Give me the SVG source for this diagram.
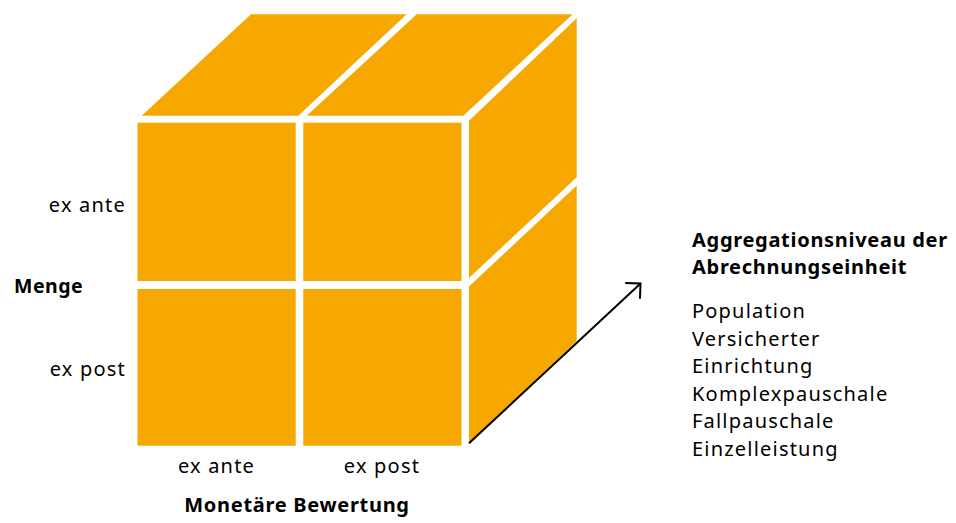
<svg xmlns="http://www.w3.org/2000/svg" width="956" height="523" viewBox="0 0 956 523">
<defs>
<style>
.face{fill:#F6A800;}
.t{font-family:"Noto Sans","Open Sans","DejaVu Sans",sans-serif;font-size:20px;fill:#000;letter-spacing:1.2px;}
.b{font-family:"Noto Sans","Open Sans","DejaVu Sans",sans-serif;font-size:20px;font-weight:bold;fill:#000;letter-spacing:0.7px;}
.arrow{stroke:#000;stroke-width:2;fill:none;}
</style>
<marker id="chev" markerUnits="userSpaceOnUse" viewBox="-14 -14 16 28" refX="0" refY="0" markerWidth="16" markerHeight="28" orient="auto" overflow="visible">
<path d="M-10.8,-10.8 L0,0 L-10.8,10.8" fill="none" stroke="#000" stroke-width="2"/>
</marker>
</defs>
<rect width="956" height="523" fill="#fff"/>
<g id="cube">
<g id="front-tl"><rect class="face" x="137.5" y="122.7" width="158.2" height="158.3"/></g>
<g id="front-tr"><rect class="face" x="303.3" y="122.7" width="158.2" height="158.3"/></g>
<g id="front-bl"><rect class="face" x="137.5" y="289" width="158.2" height="156.7"/></g>
<g id="front-br"><rect class="face" x="303.3" y="289" width="158.2" height="156.7"/></g>
<g id="top-left"><polygon class="face" points="141.7,115.7 298.3,115.7 406.7,14.3 251,14.3"/></g>
<g id="top-right"><polygon class="face" points="306.7,115.7 463.3,115.7 572.7,14.3 416.7,14.3"/></g>
<g id="side-upper"><polygon class="face" points="469,120.7 576.7,18.3 576.7,177.3 469,278"/></g>
<g id="side-lower"><polygon class="face" points="469,286.5 576.7,185.5 576.7,341 469,443.3"/></g>
</g>
<g id="connectors">
<line class="arrow" x1="469" y1="443.3" x2="640.5" y2="283.5" marker-end="url(#chev)"/>
</g>
<g id="labels">
<text class="t" x="126" y="212" text-anchor="end">ex ante</text>
<text class="b" x="14" y="293" style="font-size:19.5px;letter-spacing:0.5px">Menge</text>
<text class="t" x="126" y="376" text-anchor="end">ex post</text>
<text class="t" x="216.5" y="473" text-anchor="middle">ex ante</text>
<text class="t" x="382" y="473" text-anchor="middle">ex post</text>
<text class="b" x="297" y="512" text-anchor="middle">Monetäre Bewertung</text>
</g>
<g id="legend">
<text class="b" x="692" y="246.5">Aggregationsniveau der</text>
<text class="b" x="692" y="273.5">Abrechnungseinheit</text>
<text class="t" x="692" y="318.3">Population</text>
<text class="t" x="692" y="345.8">Versicherter</text>
<text class="t" x="692" y="373.3">Einrichtung</text>
<text class="t" x="692" y="400.8">Komplexpauschale</text>
<text class="t" x="692" y="428.3">Fallpauschale</text>
<text class="t" x="692" y="455.8">Einzelleistung</text>
</g>
</svg>
